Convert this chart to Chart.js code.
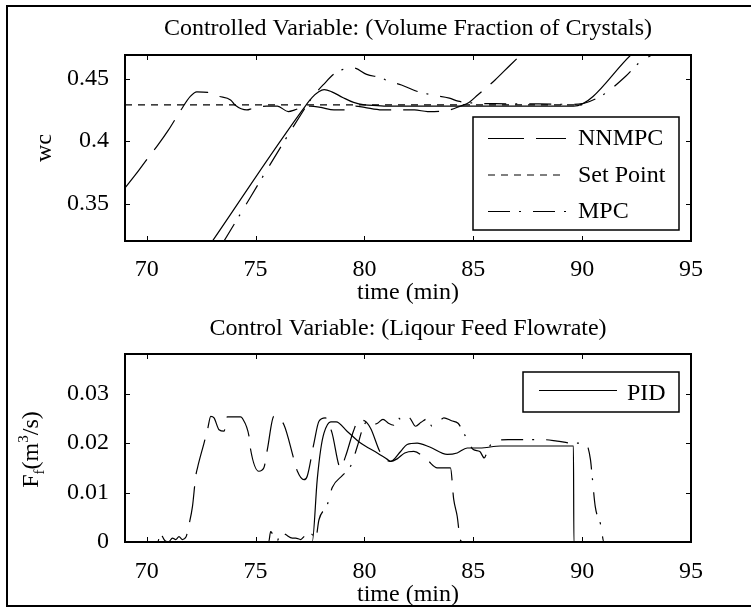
<!DOCTYPE html>
<html><head><meta charset="utf-8">
<script src="https://cdn.jsdelivr.net/npm/chart.js@4.4.1/dist/chart.umd.min.js"></script>
<style>
html,body{margin:0;padding:0;background:#fff;overflow:hidden;width:751px;height:607px;}
#frame{position:absolute;left:6px;top:5px;width:900px;height:598px;border:2px solid #000;border-right:none;pointer-events:none;z-index:5;}
canvas{position:absolute;left:0;}
#c1{top:0px;}
#c2{top:290px;}
</style></head><body>
<canvas id="c1" width="751" height="320"></canvas>
<canvas id="c2" width="751" height="320"></canvas>
<div id="frame"></div>
<script>
// ---- tick labels ----
const xTicks = [70, 75, 80, 85, 90, 95];
const wcTicks = [0.35, 0.4, 0.45];
const ffTicks = [0, 0.01, 0.02, 0.03];

// ---- top plot: volume fraction of crystals (wc) ----
const setPointX = [69, 90];
const setPointY = [0.429, 0.429];

const nnmpcWcX = [69.0, 69.5, 70.05, 70.5, 71.0, 71.56, 72.0, 72.3, 72.8, 73.3, 73.85, 74.05, 74.6, 74.85, 75.5, 76.0, 76.5, 76.8, 77.1, 77.5, 78.0, 78.6, 79.3, 79.6, 80.0, 80.8, 81.5, 82.3, 82.9, 83.8, 84.4, 84.8, 85.2, 86.0, 86.7, 87.3];
const nnmpcWcY = [0.3625, 0.3735, 0.3864, 0.3966, 0.409, 0.4247, 0.4358, 0.4395, 0.439, 0.436, 0.433, 0.429, 0.425, 0.4262, 0.428, 0.428, 0.4237, 0.425, 0.427, 0.428, 0.427, 0.425, 0.425, 0.428, 0.427, 0.425, 0.425, 0.425, 0.4237, 0.4245, 0.428, 0.431, 0.437, 0.449, 0.461, 0.471];

const pidWcX = [72.9, 77.3, 77.6, 77.9, 78.15, 78.5, 79.0, 79.5, 80.0, 80.6, 81.0, 85.0, 89.6, 92.3];
const pidWcY = [0.317, 0.4285, 0.435, 0.4395, 0.4412, 0.4395, 0.435, 0.431, 0.429, 0.4285, 0.428, 0.428, 0.428, 0.470];

const mpcWcX = [73.5, 77.22, 77.6, 78.1, 78.7, 79.5, 80.1, 80.8, 81.1, 81.7, 82.4, 83.1, 83.9, 84.3, 85.0, 86.0, 88.0, 89.5, 90.0, 90.5, 91.0, 92.0, 92.6, 93.4];
const mpcWcY = [0.3186, 0.4251, 0.435, 0.445, 0.455, 0.4586, 0.4535, 0.4505, 0.448, 0.445, 0.440, 0.437, 0.4345, 0.432, 0.4305, 0.430, 0.4298, 0.4295, 0.430, 0.433, 0.4375, 0.452, 0.4625, 0.471];

// ---- bottom plot: liquor feed flowrate (Ff) ----
const nnmpcFfX = [69, 70.5, 70.64, 70.72, 70.85, 71.0, 71.18, 71.33, 71.48, 71.64, 71.8, 71.94, 72.1, 72.25, 72.33, 72.63, 72.79, 72.94, 73.09, 73.32, 73.55, 73.7, 74.31, 74.39, 74.7, 74.77, 75.15, 75.38, 75.54, 75.84, 76.3, 76.76, 76.92, 77.22, 77.37, 77.68, 77.91, 78.2, 78.5, 78.9, 79.13, 79.5, 79.75, 80.0, 80.28, 80.74, 81.2, 81.5, 81.85, 82.27, 82.9, 83.34, 83.95, 84.1, 84.26, 84.4, 84.5, 95];
const nnmpcFfY = [0, 0, 0.0021, 0.0011, 0.0002, 0, 0.0008, 0.0005, 0.0011, 0.0005, 0.001, 0.0035, 0.0072, 0.0133, 0.015, 0.020, 0.0227, 0.0254, 0.0251, 0.0227, 0.0224, 0.0253, 0.0253, 0.025, 0.0213, 0.0187, 0.0143, 0.015, 0.0187, 0.0254, 0.0237, 0.0167, 0.0143, 0.0126, 0.0133, 0.020, 0.0244, 0.0251, 0.0222, 0.015, 0.0173, 0.0225, 0.0247, 0.0245, 0.023, 0.018, 0.0163, 0.0168, 0.018, 0.0183, 0.0165, 0.015, 0.015, 0.0086, 0.0052, 0.0005, 0, 0];

const mpcFfX = [69, 75.6, 75.69, 75.84, 76.0, 76.15, 76.38, 76.69, 76.84, 77.07, 77.22, 77.37, 77.6, 77.75, 77.91, 78.29, 78.52, 79.0, 79.36, 79.67, 79.9, 80.15, 80.35, 80.6, 80.85, 81.1, 81.35, 81.55, 81.75, 82.05, 82.35, 82.6, 82.9, 83.1, 83.4, 83.65, 84.0, 84.3, 84.6, 85.0, 85.3, 85.5, 85.7, 86.0, 86.6, 87.5, 88.15, 88.85, 89.5, 90.15, 90.38, 90.46, 90.6, 90.85, 91.0, 95];
const mpcFfY = [0, 0, 0.0021, 0.0011, 0.0003, 0.0021, 0.0015, 0.0008, 0.0008, 0.0005, 0.0011, 0.0018, 0.0015, 0.0005, 0.0045, 0.0075, 0.011, 0.0135, 0.0153, 0.0193, 0.0227, 0.0245, 0.0237, 0.024, 0.0248, 0.024, 0.0236, 0.0251, 0.0243, 0.0251, 0.0234, 0.0242, 0.0249, 0.0234, 0.0242, 0.0251, 0.0245, 0.024, 0.0217, 0.0187, 0.0183, 0.017, 0.019, 0.0204, 0.0207, 0.0207, 0.0207, 0.0204, 0.020, 0.020, 0.0167, 0.0133, 0.0072, 0.0035, 0, 0];

const pidFfX = [69, 77.6, 77.83, 77.99, 78.14, 78.45, 78.7, 79.2, 79.82, 80.59, 81.05, 81.2, 81.66, 81.96, 82.42, 83.0, 83.8, 84.26, 84.72, 85.3, 86.25, 89.6, 89.62, 95];
const pidFfY = [0, 0, 0.0126, 0.0187, 0.022, 0.0243, 0.0243, 0.0224, 0.020, 0.018, 0.0167, 0.0163, 0.0183, 0.0197, 0.020, 0.0192, 0.0177, 0.018, 0.019, 0.019, 0.0194, 0.0194, 0, 0];

// ---- styles ----
const serif = '"Liberation Serif", "Times New Roman", Times, serif';
const DASH_LONG = [36, 12];
const DASH_SHORT = [7, 6];
const DASH_DOT = [22, 9, 2, 12];

function pts(xs, ys) { return xs.map((x, i) => ({x: x, y: ys[i]})); }

function ds(label, xs, ys, dash, smooth) {
  return {
    label: label, data: pts(xs, ys), borderColor: '#000', borderWidth: 1.2,
    borderDash: dash, pointRadius: 0, fill: false, showLine: true,
    cubicInterpolationMode: smooth ? 'monotone' : 'default', tension: 0
  };
}

const matFrame = {
  id: 'matFrame',
  afterDatasetsDraw(chart, args, opts) {
    const ctx = chart.ctx, a = chart.chartArea;
    const xs = chart.scales.x, ys = chart.scales.y;
    ctx.save();
    ctx.strokeStyle = '#000';
    ctx.lineWidth = 1;
    ctx.setLineDash([]);
    ctx.beginPath();
    const tl = 5;
    xs.ticks.forEach(t => {
      const p = Math.round(xs.getPixelForValue(t.value)) + 0.5;
      ctx.moveTo(p, a.bottom); ctx.lineTo(p, a.bottom - tl);
      ctx.moveTo(p, a.top); ctx.lineTo(p, a.top + tl);
    });
    ys.ticks.forEach(t => {
      const p = Math.round(ys.getPixelForValue(t.value)) + 0.5;
      ctx.moveTo(a.left, p); ctx.lineTo(a.left + tl, p);
      ctx.moveTo(a.right, p); ctx.lineTo(a.right - tl, p);
    });
    ctx.stroke();
    ctx.lineWidth = 2;
    ctx.strokeRect(a.left, a.top, a.right - a.left, a.bottom - a.top);
    const lg = opts.legend;
    if (lg) {
      const b = lg.box;
      ctx.fillStyle = '#fff';
      ctx.fillRect(b[0], b[1], b[2] - b[0], b[3] - b[1]);
      ctx.lineWidth = 1.5;
      ctx.strokeRect(b[0], b[1], b[2] - b[0], b[3] - b[1]);
      ctx.font = '24px ' + serif;
      ctx.textBaseline = 'middle';
      ctx.textAlign = 'left';
      lg.items.forEach(it => {
        const d = chart.data.datasets[it.index];
        ctx.setLineDash(d.borderDash || []);
        ctx.lineWidth = d.borderWidth;
        ctx.beginPath();
        ctx.moveTo(lg.line[0], it.lineY);
        ctx.lineTo(lg.line[1], it.lineY);
        ctx.stroke();
        ctx.setLineDash([]);
        ctx.fillStyle = '#000';
        ctx.fillText(d.label, lg.textX, it.y);
      });
    }
    ctx.restore();
  },
  afterDraw(chart, args, opts) {
    const yl = opts.ylabel;
    if (!yl) return;
    const ctx = chart.ctx;
    const big = '24px ' + serif, small = '15px ' + serif;
    const parts = [['F', big, 0], ['f', small, 6], ['(m', big, 0], ['3', small, -10], ['/s)', big, 0]];
    ctx.save();
    let total = 0;
    parts.forEach(p => { ctx.font = p[1]; total += ctx.measureText(p[0]).width; });
    ctx.translate(yl.x, yl.y);
    ctx.rotate(-Math.PI / 2);
    ctx.textBaseline = 'alphabetic';
    ctx.textAlign = 'left';
    ctx.fillStyle = '#000';
    let xx = -total / 2;
    parts.forEach(p => { ctx.font = p[1]; ctx.fillText(p[0], xx, p[2]); xx += ctx.measureText(p[0]).width; });
    ctx.restore();
  }
};

function makeChart(id, cfg) {
  const tickFont = {family: serif, size: 24, lineHeight: 1.2, weight: 'normal'};
  return new Chart(document.getElementById(id), {
    type: 'line',
    data: {datasets: cfg.datasets},
    options: {
      responsive: false, animation: false, devicePixelRatio: 1,
      layout: {padding: {left: 0, right: 60, top: 0, bottom: 0}},
      plugins: {
        legend: {display: false},
        tooltip: {enabled: false},
        title: {display: true, text: cfg.title, fullSize: false, color: '#000',
                font: {family: serif, size: 24, lineHeight: 1.2, weight: 'normal'},
                padding: cfg.titlePad},
        matFrame: cfg.frame
      },
      scales: {
        x: {
          type: 'linear', min: 69, max: 95,
          afterBuildTicks: ax => { ax.ticks = xTicks.map(v => ({value: v})); },
          afterFit: s => { s.height = cfg.xHeight; },
          grid: {display: false}, border: {display: false},
          ticks: {color: '#000', font: tickFont, padding: cfg.xTickPad, autoSkip: false, maxRotation: 0, minRotation: 0,
                  callback: v => String(v)},
          title: {display: true, text: 'time (min)', color: '#000', font: tickFont,
                  padding: {top: 0, bottom: cfg.xTitlePad}}
        },
        y: {
          type: 'linear', min: cfg.yMin, max: cfg.yMax,
          afterBuildTicks: ax => { ax.ticks = cfg.yTicks.map(v => ({value: v})); },
          afterFit: s => { s.width = 125; },
          grid: {display: false}, border: {display: false},
          ticks: {color: '#000', font: tickFont, padding: 8, autoSkip: false, callback: v => String(v)},
          title: {display: !!cfg.yTitle, text: cfg.yTitle || '', color: '#000', font: tickFont,
                  padding: {top: 30.5, bottom: 0}}
        }
      }
    },
    plugins: [matFrame]
  });
}

makeChart('c1', {
  title: 'Controlled Variable: (Volume Fraction of Crystals)',
  titlePad: {top: 14.6, bottom: 11.6},
  xHeight: 79, xTickPad: 6, xTitlePad: 12.6,
  yMin: 0.32, yMax: 0.469, yTicks: wcTicks, yTitle: 'wc',
  datasets: [
    ds('NNMPC', nnmpcWcX, nnmpcWcY, DASH_LONG, true),
    ds('Set Point', setPointX, setPointY, DASH_SHORT, false),
    ds('MPC', mpcWcX, mpcWcY, DASH_DOT, true),
    ds('PID', pidWcX, pidWcY, [], true)
  ],
  frame: {
    legend: {box: [473, 117, 679, 230], line: [488, 566], textX: 578,
             items: [{index: 0, y: 139, lineY: 138.5}, {index: 1, y: 175.5, lineY: 175}, {index: 2, y: 212, lineY: 211.5}]}
  }
});

makeChart('c2', {
  title: 'Control Variable: (Liqour Feed Flowrate)',
  titlePad: {top: 24.1, bottom: 11.1},
  xHeight: 68, xTickPad: 7, xTitlePad: 0.6,
  yMin: 0, yMax: 0.038, yTicks: ffTicks, yTitle: null,
  datasets: [
    ds('NNMPC', nnmpcFfX, nnmpcFfY, DASH_LONG, true),
    ds('MPC', mpcFfX, mpcFfY, DASH_DOT, true),
    ds('PID', pidFfX, pidFfY, [], true)
  ],
  frame: {
    legend: {box: [523, 82, 679, 122], line: [539, 617], textX: 627,
             items: [{index: 2, y: 103.5, lineY: 100.5}]},
    ylabel: {x: 38, y: 159.5}
  }
});
</script>
</body></html>
